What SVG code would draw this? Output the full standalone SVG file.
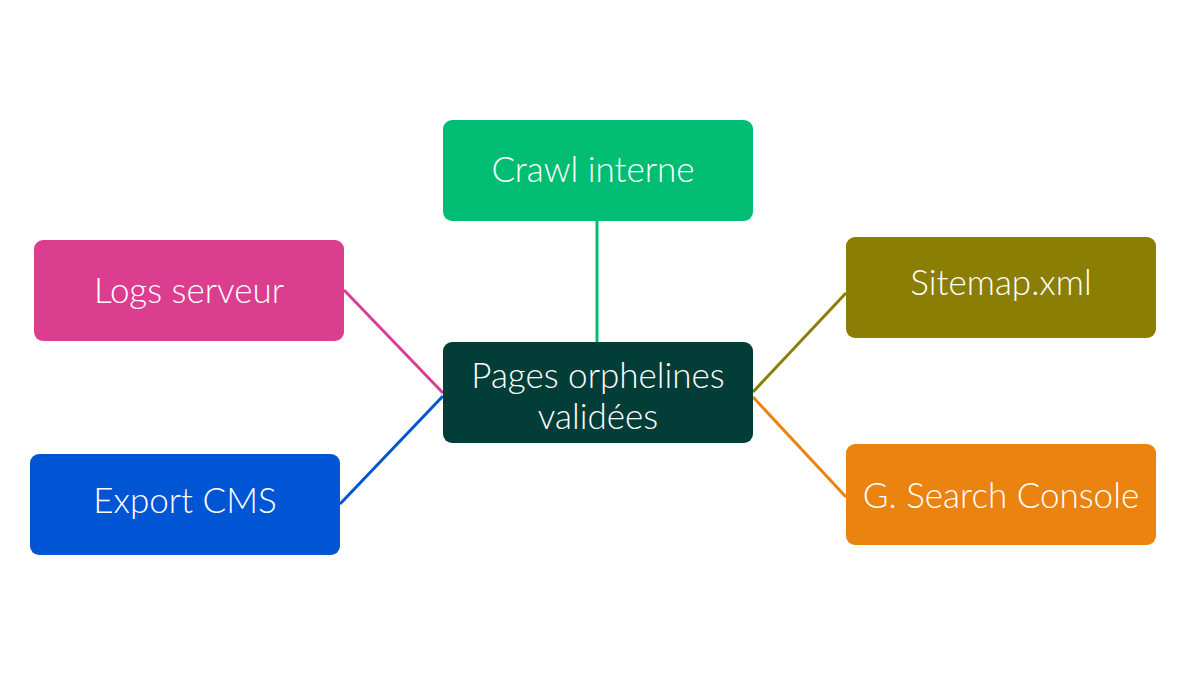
<svg xmlns="http://www.w3.org/2000/svg" width="1200" height="675" viewBox="0 0 1200 675">
<style>
.t{font-family:Lato,"Noto Sans",sans-serif;font-size:35px;font-weight:300;fill:#ffffff;text-anchor:middle;dominant-baseline:central}
.c{stroke-width:3;fill:none}
</style>
<rect width="1200" height="675" fill="#ffffff"/>
<g id="connectors">
<line class="c" x1="597" y1="221" x2="597" y2="342" stroke="#00BD73"/>
<line class="c" x1="344" y1="290" x2="443" y2="393" stroke="#DB3E8F"/>
<line class="c" x1="340" y1="504" x2="443" y2="396" stroke="#0055D4"/>
<line class="c" x1="846" y1="293" x2="753" y2="392" stroke="#8B7E05"/>
<line class="c" x1="846" y1="497" x2="753" y2="397" stroke="#EB8311"/>
</g>
<g id="crawl">
<rect x="443" y="120" width="310" height="101" rx="9" fill="#00BD73"/>
<text class="t" x="593" y="168">Crawl interne</text>
</g>
<g id="logs">
<rect x="34" y="240" width="310" height="101" rx="9" fill="#DB3E8F"/>
<text class="t" x="189" y="289">Logs serveur</text>
</g>
<g id="export">
<rect x="30" y="454" width="310" height="101" rx="9" fill="#0055D4"/>
<text class="t" x="185" y="499">Export CMS</text>
</g>
<g id="sitemap">
<rect x="846" y="237" width="310" height="101" rx="9" fill="#8B7E05"/>
<text class="t" x="1001" y="281">Sitemap.xml</text>
</g>
<g id="gsc">
<rect x="846" y="444" width="310" height="101" rx="9" fill="#EB8311"/>
<text class="t" x="1001" y="494">G. Search Console</text>
</g>
<g id="center">
<rect x="443" y="342" width="310" height="101" rx="9" fill="#033D37"/>
<text class="t" x="598" y="374">Pages orphelines</text>
<text class="t" x="598" y="415">validées</text>
</g>
</svg>
